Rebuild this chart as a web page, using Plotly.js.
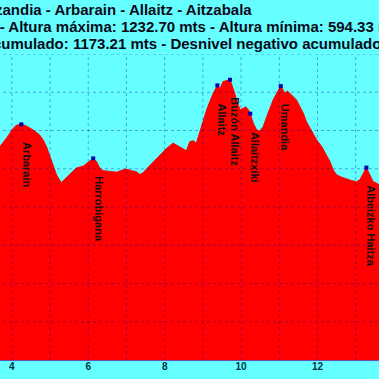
<!DOCTYPE html>
<html><head><meta charset="utf-8">
<script src="https://cdn.plot.ly/plotly-3.0.1.min.js"></script>
<style>
html,body{margin:0;padding:0;width:379px;height:379px;overflow:hidden;background:#66ffff;}
#chart{position:absolute;left:-201px;top:0;width:654px;height:400px;}
</style>
</head><body><div id="chart"></div>
<script>
const distanceKm = [3.20,3.50,3.69,3.86,4.04,4.12,4.25,4.38,4.56,4.73,4.82,4.91,5.00,5.08,5.17,5.26,5.30,5.39,5.52,5.69,5.87,6.00,6.13,6.22,6.30,6.39,6.57,6.74,6.91,7.00,7.13,7.26,7.35,7.44,7.57,7.70,7.87,8.05,8.22,8.31,8.44,8.57,8.66,8.75,8.83,8.92,9.01,9.10,9.18,9.27,9.38,9.45,9.53,9.62,9.71,9.79,9.88,9.97,10.06,10.12,10.19,10.24,10.32,10.41,10.49,10.58,10.67,10.75,10.84,10.93,11.04,11.15,11.21,11.28,11.37,11.45,11.54,11.63,11.71,11.80,11.89,11.98,12.11,12.24,12.33,12.41,12.50,12.63,12.76,12.89,13.02,13.11,13.20,13.28,13.37,13.46,13.55,13.61,13.80,14.20,14.50];
const altitudeM = [1010,1040,1058,1080,1106,1114,1116,1112,1101,1088,1075,1057,1031,1005,984,969,964,973,986,1002,1007,1018,1027,1018,1002,995,992,991,997,999,995,992,985,990,1004,1018,1036,1053,1067,1062,1056,1047,1071,1073,1067,1097,1127,1154,1175,1197,1218,1210,1228,1230,1232.7,1210,1184,1154,1158,1162,1154,1144,1119,1101,1099,1110,1136,1158,1180,1197,1216,1197,1203,1197,1188,1180,1162,1145,1123,1106,1088,1075,1058,1036,1018,997,984,978,973,969,966,971,988,1003,984,966,962,958,945,900,880];
const peakNames = ["Arbarain","Harrobigana","Allaitz","Buzón Allaitz","Allaitzxiki","Umandia","Albeizko Haitza"];
const peakKm = [4.25,6.13,9.38,9.71,10.24,11.04,13.28];
const peakAlt = [1116,1027,1218,1232.7,1144,1216,1003];
const titleLines = [
  "Aitzandia - Arbarain - Allaitz - Aitzabala",
  "Distancia: 14.50 kms - Altura máxima: 1232.70 mts - Altura mínima: 594.33 mts",
  "Desnivel positivo acumulado: 1173.21 mts - Desnivel negativo acumulado: 1173.21 mts"
];
const xTickVals = [4,6,8,10,12];
const gridKm = [1,2,3,4,5,6,7,8,9,10,11,12,13,14];
const gridAlt = [600,700,800,900,1000,1100,1200,1300];

// layout geometry (plot area pixels relative to window)
const plotLeftPx = -141, plotWidthPx = 554, plotBottomPx = 360, plotHeightPx = 306;
const px2paperX = p => (p - plotLeftPx) / plotWidthPx;
const px2paperY = p => (plotBottomPx - p) / plotHeightPx;

const titleRightPx = [254, 407, 477];
const titleMidPx = [9, 26.7, 43.3];

const traces = [
  {x: distanceKm, y: altitudeM, type: 'scatter', mode: 'lines', fill: 'tozeroy',
   fillcolor: '#ff0000', line: {color: '#ff0000', width: 1}, hoverinfo: 'skip'},
  {x: peakKm, y: peakAlt, type: 'scatter', mode: 'markers',
   marker: {symbol: 'square', size: 4, color: '#0000b0'}, hoverinfo: 'skip'}
];

const shapes = [];
gridKm.forEach(k => shapes.push({type: 'line', xref: 'x', yref: 'paper', x0: k, x1: k, y0: 0, y1: 1,
  layer: 'above', line: {color: 'rgba(0,0,160,0.35)', width: 1, dash: 'dot'}}));
gridAlt.forEach(a => shapes.push({type: 'line', xref: 'paper', yref: 'y', x0: 0, x1: 1, y0: a, y1: a,
  layer: 'above', line: {color: 'rgba(0,0,160,0.35)', width: 1, dash: 'dot'}}));

const annotations = [];
titleLines.forEach((t, i) => annotations.push({
  text: t, xref: 'paper', yref: 'paper', x: px2paperX(titleRightPx[i]), y: px2paperY(titleMidPx[i]),
  xanchor: 'right', yanchor: 'middle', showarrow: false,
  font: {family: 'Liberation Sans, Arial, sans-serif', size: 15, weight: 'bold', color: '#0a0a1a'}
}));
peakNames.forEach((n, i) => annotations.push({
  text: n, xref: 'x', yref: 'y', x: peakKm[i], y: peakAlt[i], textangle: 90,
  xanchor: 'left', yanchor: 'top', xshift: -3, yshift: -16, showarrow: false,
  font: {family: 'Liberation Sans, Arial, sans-serif', size: 11, weight: 'bold', color: '#111111'}
}));

const layout = {
  width: 654, height: 400,
  margin: {l: 60, r: 40, t: 54, b: 40, pad: 0},
  paper_bgcolor: '#66ffff', plot_bgcolor: '#66ffff',
  showlegend: false,
  xaxis: {range: [0, 14.5], tickvals: xTickVals, ticktext: xTickVals.map(String),
    showgrid: false, zeroline: false, showline: true, linecolor: '#6a50b0', linewidth: 1,
    ticks: '', ticklabelstandoff: -3,
    tickfont: {family: 'Liberation Sans, Arial, sans-serif', size: 10, weight: 'bold', color: '#003344'}},
  yaxis: {range: [500, 1300], showgrid: false, zeroline: false, showticklabels: false, ticks: ''},
  shapes: shapes,
  annotations: annotations
};

Plotly.newPlot('chart', traces, layout, {displayModeBar: false, staticPlot: true});
</script>
</body></html>
